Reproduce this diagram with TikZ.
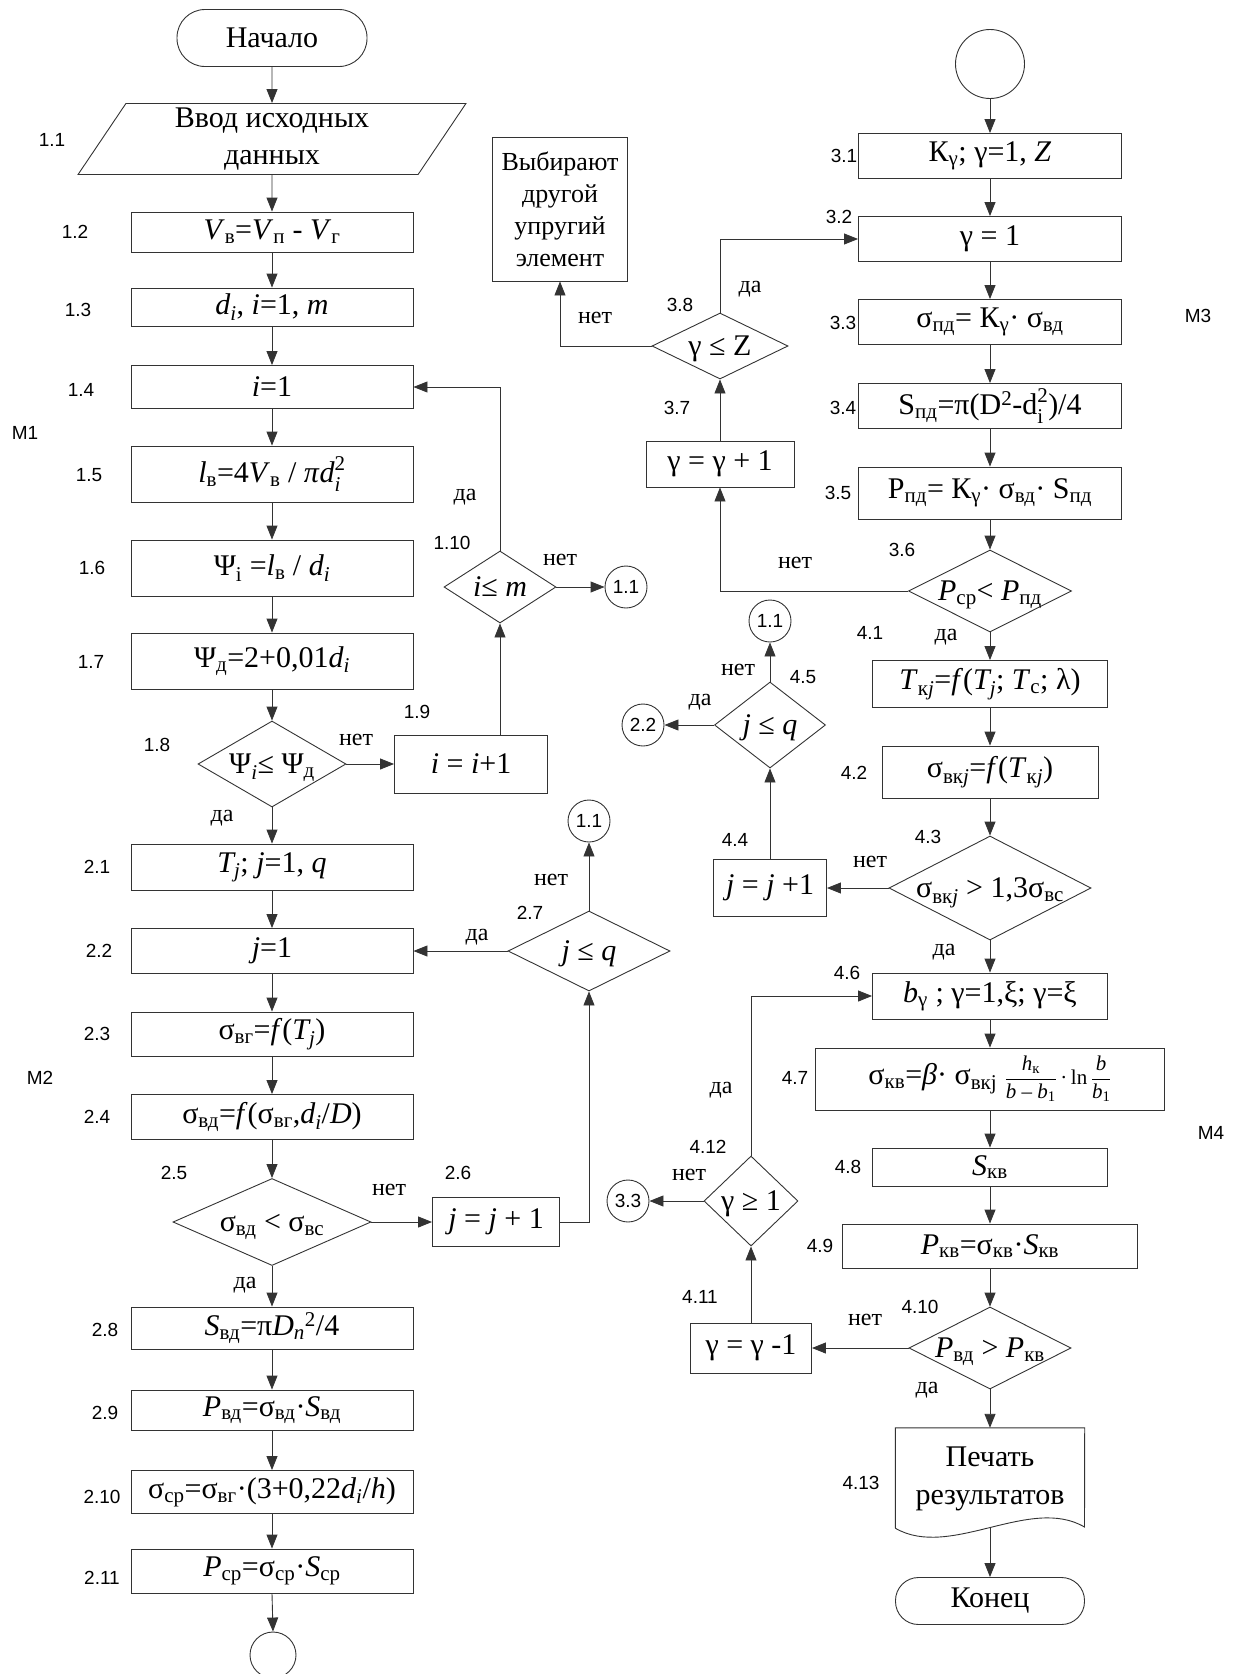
\documentclass[tikz,border=0pt]{standalone}
\usepackage{fontspec}
\setmainfont{Liberation Serif}
\newfontfamily\labfont{Liberation Sans}
\usetikzlibrary{shapes.geometric,arrows.meta}
\makeatletter
\newcommand\zb[1]{\smash{\raisebox{-0.33em}{\makebox[0pt]{#1}}}}
\newcommand\sbb[1]{\textsubscript{#1}}
\newcommand\spp[1]{\textsuperscript{#1}}
\newcommand\sts[2]{{\m@th\ensuremath{{}_{\mbox{\fontsize\sf@size\z@\selectfont\raisebox{-2pt}{#1}}}^{\mbox{\fontsize\sf@size\z@\selectfont\raisebox{3pt}{#2}}}}}}
\makeatother
\newcommand\fr[2]{$\displaystyle\frac{\mbox{#1}}{\mbox{#2}}$}
\begin{document}
\begin{tikzpicture}[x=1pt,y=-1pt,
  ln/.style={draw=black!80,line width=0.9pt},
  arw/.style={ln,-{Triangle[length=14pt,width=11pt]}},
  pbox/.style={ln,rectangle,inner sep=0pt,font=\fontsize{30}{36}\selectfont,align=center},
  dbox/.style={ln,diamond,inner sep=0pt,font=\fontsize{30}{36}\selectfont},
  tbox/.style={ln,rectangle,inner sep=0pt,font=\fontsize{30}{36}\selectfont},
  cbox/.style={ln,circle,inner sep=0pt,minimum size=42pt,font=\labfont\fontsize{19}{22}\selectfont},
  lbl/.style={inner sep=0pt,font=\labfont\fontsize{19}{22}\selectfont},
  ynl/.style={inner sep=0pt,font=\fontsize{24}{28}\selectfont},
]
\useasboundingbox (0,0) rectangle (1240,1674);

% ---------------- left column ----------------
\node[tbox,minimum width=190pt,minimum height=57pt,rounded corners=28pt] (start) at (272,38) {Начало};
\node[ln,trapezium,trapezium left angle=63,trapezium right angle=117,trapezium stretches=true,
      minimum width=388pt,minimum height=71pt,inner sep=0pt,align=center,
      font=\fontsize{30}{37}\selectfont] (b11) at (272,139) {Ввод исходных\\данных};
\node[pbox,minimum width=282pt,minimum height=40pt] (b12) at (272,232) {\textit{V}\sbb{в}=\textit{V}\sbb{п} - \textit{V}\sbb{г}};
\node[pbox,minimum width=282pt,minimum height=38pt] (b13) at (272,307) {\textit{d\sbb{i}}, \textit{i}=1, \textit{m}};
\node[pbox,minimum width=282pt,minimum height=43pt] (b14) at (272,387) {\textit{i}=1};
\node[pbox,minimum width=282pt,minimum height=56pt] (b15) at (272,474) {\textit{l}\sbb{в}=4\textit{V}\sbb{в} / \textit{π}\textit{d}\sts{\textit{i}}{2}};
\node[pbox,minimum width=282pt,minimum height=56pt] (b16) at (272,568) {Ψ\sbb{i} =\textit{l}\sbb{в} / \textit{d\sbb{i}}};
\node[pbox,minimum width=282pt,minimum height=56pt] (b17) at (272,661) {Ψ\sbb{д}=2+0,01\textit{d\sbb{i}}};
\node[dbox,minimum width=148pt,minimum height=86pt] (d18) at (272,764) {\zb{Ψ\sbb{\textit{i}}≤ Ψ\sbb{д}}};
\node[pbox,minimum width=153pt,minimum height=58pt] (b19) at (471,764) {\textit{i} = \textit{i}+1};
\node[dbox,minimum width=112pt,minimum height=72pt] (d110) at (500,587) {\zb{\textit{i}≤ \textit{m}}};
\node[cbox] (c1) at (626,587) {1.1};

\node[pbox,minimum width=282pt,minimum height=46pt] (b21) at (272,867) {\textit{T\sbb{j}}; \textit{j}=1, \textit{q}};
\node[pbox,minimum width=282pt,minimum height=45pt] (b22) at (272,951) {\textit{j}=1};
\node[pbox,minimum width=282pt,minimum height=44pt] (b23) at (272,1034) {σ\sbb{вг}=\textit{f}(\textit{T\sbb{j}})};
\node[pbox,minimum width=282pt,minimum height=45pt] (b24) at (272,1117) {σ\sbb{вд}=\textit{f}(σ\sbb{вг},\textit{d\sbb{i}}/\textit{D})};
\node[dbox,minimum width=198pt,minimum height=87pt] (d25) at (272,1222) {\zb{σ\sbb{вд} < σ\sbb{вс}}};
\node[pbox,minimum width=127pt,minimum height=49pt] (b26) at (496,1222) {\textit{j} = \textit{j} + 1};
\node[dbox,minimum width=162pt,minimum height=80pt] (d27) at (589,951) {\zb{\textit{j} ≤ \textit{q}}};
\node[cbox] (c2) at (589,821) {1.1};
\node[pbox,minimum width=282pt,minimum height=42pt] (b28) at (272,1328) {\textit{S}\sbb{вд}=π\textit{D}\sbb{\textit{n}}\spp{2}/4};
\node[pbox,minimum width=282pt,minimum height=40pt] (b29) at (272,1410) {\textit{P}\sbb{вд}=σ\sbb{вд}·\textit{S}\sbb{вд}};
\node[pbox,minimum width=282pt,minimum height=43pt] (b210) at (272,1492) {σ\sbb{ср}=σ\sbb{вг}·(3+0,22\textit{d\sbb{i}}/\textit{h})};
\node[pbox,minimum width=282pt,minimum height=44pt] (b211) at (272,1571) {\textit{P}\sbb{ср}=σ\sbb{ср}·\textit{S}\sbb{ср}};
\node[cbox,minimum size=46pt] (c0) at (273,1655) {};

% ---------------- right column ----------------
\node[cbox,minimum size=69pt] (ctop) at (990,64) {};
\node[pbox,minimum width=263pt,minimum height=45pt] (b31) at (990,156) {К\sbb{γ}; γ=1, \textit{Z}};
\node[pbox,minimum width=263pt,minimum height=45pt] (b32) at (990,239) {γ = 1};
\node[pbox,minimum width=263pt,minimum height=45pt] (b33) at (990,322) {σ\sbb{пд}= К\sbb{γ}· σ\sbb{вд}};
\node[pbox,minimum width=263pt,minimum height=45pt] (b34) at (990,406) {S\sbb{пд}=π(D\spp{2}-d\sts{i}{2})/4};
\node[pbox,minimum width=263pt,minimum height=52pt] (b35) at (990,493) {P\sbb{пд}= К\sbb{γ}· σ\sbb{вд}· S\sbb{пд}};
\node[dbox,minimum width=163pt,minimum height=82pt] (d36) at (990,591) {\zb{\textit{P}\sbb{ср}< \textit{P}\sbb{пд}}};
\node[pbox,minimum width=148pt,minimum height=46pt] (b37) at (720,464) {γ = γ + 1};
\node[dbox,minimum width=136pt,minimum height=66pt] (d38) at (720,346) {\zb{γ ≤ Z}};
\node[pbox,minimum width=135pt,minimum height=144pt,font=\fontsize{26}{32}\selectfont] (vyb) at (560,209) {Выбирают\\другой\\упругий\\элемент};
\node[pbox,minimum width=235pt,minimum height=47pt] (b41) at (990,684) {\textit{T}\sbb{к\textit{j}}=\textit{f}(\textit{T\sbb{j}}; \textit{T}\sbb{с}; λ)};
\node[pbox,minimum width=216pt,minimum height=52pt] (b42) at (990,772) {σ\sbb{вк\textit{j}}=\textit{f}(\textit{T}\sbb{к\textit{j}})};
\node[dbox,minimum width=202pt,minimum height=104pt] (d43) at (990,888) {\zb{σ\sbb{вк\textit{j}} > 1,3σ\sbb{вс}}};
\node[pbox,minimum width=113pt,minimum height=57pt] (b44) at (770,888) {\textit{j} = \textit{j} +1};
\node[dbox,minimum width=111pt,minimum height=86pt] (d45) at (770,725) {\zb{\textit{j} ≤ \textit{q}}};
\node[cbox] (c3) at (770,621) {1.1};
\node[cbox] (c4) at (643,725) {2.2};
\node[pbox,minimum width=235pt,minimum height=46pt] (b46) at (990,996) {\textit{b}\sbb{γ} ; γ=1,ξ; γ=ξ};
\node[pbox,minimum width=349pt,minimum height=62pt] (b47) at (990,1079) {σ\sbb{кв}=\textit{β}· σ\sbb{вкj} {\fontsize{21}{24}\selectfont\fr{\textit{h}\sbb{к}}{\textit{b} – \textit{b}\sbb{1}}\,·\,ln\,\fr{\textit{b}}{\textit{b}\sbb{1}}}};
\node[pbox,minimum width=235pt,minimum height=38pt] (b48) at (990,1167) {\textit{S}\sbb{кв}};
\node[pbox,minimum width=295pt,minimum height=44pt] (b49) at (990,1246) {\textit{P}\sbb{кв}=σ\sbb{кв}·\textit{S}\sbb{кв}};
\node[dbox,minimum width=162pt,minimum height=82pt] (d410) at (990,1348) {\zb{\textit{P}\sbb{вд} > \textit{P}\sbb{кв}}};
\node[pbox,minimum width=121pt,minimum height=50pt] (b411) at (751,1348) {γ = γ -1};
\node[dbox,minimum width=94pt,minimum height=90pt] (d412) at (751,1201) {\zb{γ ≥ 1}};
\node[cbox] (c5) at (628,1201) {3.3};
\node[inner sep=0pt,minimum width=189pt,minimum height=100pt,align=center,font=\fontsize{30}{38}\selectfont] (doc) at (990,1478) {\raisebox{8pt}{\begin{tabular}{@{}c@{}}Печать\\результатов\end{tabular}}};
\draw[ln] (doc.south west) -- (doc.north west) -- (doc.north east) -- (1084.5,1527)
  .. controls (1030,1495) and (950,1560) .. (doc.south west);
\node[tbox,minimum width=189pt,minimum height=47pt,rounded corners=23pt] (end) at (990,1601) {Конец};

% ---------------- labels ----------------
\node[lbl] (l11) at (52,140) {1.1};
\node[lbl] (l12) at (75,232) {1.2};
\node[lbl] (l13) at (78,310) {1.3};
\node[lbl] (l14) at (81,390) {1.4};
\node[lbl] (lM1) at (25,433) {М1};
\node[lbl] (l15) at (89,475) {1.5};
\node[lbl] (l16) at (92,568) {1.6};
\node[lbl] (l17) at (91,662) {1.7};
\node[lbl] (l18) at (157,745) {1.8};
\node[lbl] (l19) at (417,712) {1.9};
\node[lbl] (l110) at (452,543) {1.10};
\node[lbl] (l21) at (97,867) {2.1};
\node[lbl] (l22) at (99,951) {2.2};
\node[lbl] (l23) at (97,1034) {2.3};
\node[lbl] (lM2) at (40,1078) {М2};
\node[lbl] (l24) at (97,1117) {2.4};
\node[lbl] (l25) at (174,1173) {2.5};
\node[lbl] (l26) at (458,1173) {2.6};
\node[lbl] (l27) at (530,913) {2.7};
\node[lbl] (l28) at (105,1330) {2.8};
\node[lbl] (l29) at (105,1413) {2.9};
\node[lbl] (l210) at (102,1497) {2.10};
\node[lbl] (l211) at (102,1578) {2.11};
\node[lbl] (l31) at (844,156) {3.1};
\node[lbl] (l32) at (839,217) {3.2};
\node[lbl] (l33) at (843,323) {3.3};
\node[lbl] (lM3) at (1198,316) {М3};
\node[lbl] (l34) at (843,408) {3.4};
\node[lbl] (l35) at (838,493) {3.5};
\node[lbl] (l36) at (902,550) {3.6};
\node[lbl] (l37) at (677,408) {3.7};
\node[lbl] (l38) at (680,305) {3.8};
\node[lbl] (l41) at (870,633) {4.1};
\node[lbl] (l42) at (854,773) {4.2};
\node[lbl] (l43) at (928,837) {4.3};
\node[lbl] (l44) at (735,840) {4.4};
\node[lbl] (l45) at (803,677) {4.5};
\node[lbl] (l46) at (847,973) {4.6};
\node[lbl] (l47) at (795,1078) {4.7};
\node[lbl] (lM4) at (1211,1133) {М4};
\node[lbl] (l48) at (848,1167) {4.8};
\node[lbl] (l49) at (820,1246) {4.9};
\node[lbl] (l410) at (920,1307) {4.10};
\node[lbl] (l411) at (700,1297) {4.11};
\node[lbl] (l412) at (708,1147) {4.12};
\node[lbl] (l413) at (861,1483) {4.13};

\node[ynl] (n18) at (356,740) {нет};
\node[ynl] (y18) at (222,818) {да};
\node[ynl] (y110) at (465,497) {да};
\node[ynl] (n110) at (560,560) {нет};
\node[ynl] (n25) at (389,1190) {нет};
\node[ynl] (y25) at (245,1285) {да};
\node[ynl] (y27) at (477,937) {да};
\node[ynl] (n27) at (551,880) {нет};
\node[ynl] (n36) at (795,563) {нет};
\node[ynl] (y36) at (946,637) {да};
\node[ynl] (y38) at (750,289) {да};
\node[ynl] (n38) at (595,318) {нет};
\node[ynl] (n43) at (870,862) {нет};
\node[ynl] (y43) at (944,952) {да};
\node[ynl] (n45) at (738,670) {нет};
\node[ynl] (y45) at (700,702) {да};
\node[ynl] (n410) at (865,1320) {нет};
\node[ynl] (y410) at (927,1390) {да};
\node[ynl] (n412) at (689,1175) {нет};
\node[ynl] (y412) at (721,1090) {да};

% ---------------- connectors ----------------
\draw[arw] (start.south) -- (b11.north);
\draw[arw] (b11.south) -- (b12.north);
\draw[arw] (b12.south) -- (b13.north);
\draw[arw] (b13.south) -- (b14.north);
\draw[arw] (b14.south) -- (b15.north);
\draw[arw] (b15.south) -- (b16.north);
\draw[arw] (b16.south) -- (b17.north);
\draw[arw] (b17.south) -- (d18.north);
\draw[arw] (d18.east) -- (b19.west);
\draw[arw] (b19.north -| d110.south) -- (d110.south);
\draw[arw] (d110.north) |- (b14.east);
\draw[arw] (d110.east) -- (c1.west);
\draw[arw] (d18.south) -- (b21.north);
\draw[arw] (b21.south) -- (b22.north);
\draw[arw] (b22.south) -- (b23.north);
\draw[arw] (b23.south) -- (b24.north);
\draw[arw] (b24.south) -- (d25.north);
\draw[arw] (d25.east) -- (b26.west);
\draw[arw] (b26.east) -| (d27.south);
\draw[arw] (d27.north) -- (c2.south);
\draw[arw] (d27.west) -- (b22.east);
\draw[arw] (d25.south) -- (b28.north);
\draw[arw] (b28.south) -- (b29.north);
\draw[arw] (b29.south) -- (b210.north);
\draw[arw] (b210.south) -- (b211.north);
\draw[arw] (b211.south) -- (c0.north);

\draw[arw] (ctop.south) -- (b31.north);
\draw[arw] (b31.south) -- (b32.north);
\draw[arw] (b32.south) -- (b33.north);
\draw[arw] (b33.south) -- (b34.north);
\draw[arw] (b34.south) -- (b35.north);
\draw[arw] (b35.south) -- (d36.north);
\draw[arw] (d36.west) -| (b37.south);
\draw[arw] (b37.north) -- (d38.south);
\draw[arw] (d38.north) |- (b32.west);
\draw[arw] (d38.west) -| (vyb.south);
\draw[arw] (d36.south) -- (b41.north);
\draw[arw] (b41.south) -- (b42.north);
\draw[arw] (b42.south) -- (d43.north);
\draw[arw] (d43.west) -- (b44.east);
\draw[arw] (b44.north -| d45.south) -- (d45.south);
\draw[arw] (d45.north) -- (c3.south);
\draw[arw] (d45.west) -- (c4.east);
\draw[arw] (d43.south) -- (b46.north);
\draw[arw] (b46.south) -- (b47.north);
\draw[arw] (b47.south) -- (b48.north);
\draw[arw] (b48.south) -- (b49.north);
\draw[arw] (b49.south) -- (d410.north);
\draw[arw] (d410.west) -- (b411.east);
\draw[arw] (b411.north -| d412.south) -- (d412.south);
\draw[arw] (d412.north) |- (b46.west);
\draw[arw] (d412.west) -- (c5.east);
\draw[arw] (d410.south) -- (doc.north);
\draw[arw] (doc.south) -- (end.north);
\end{tikzpicture}
\end{document}
